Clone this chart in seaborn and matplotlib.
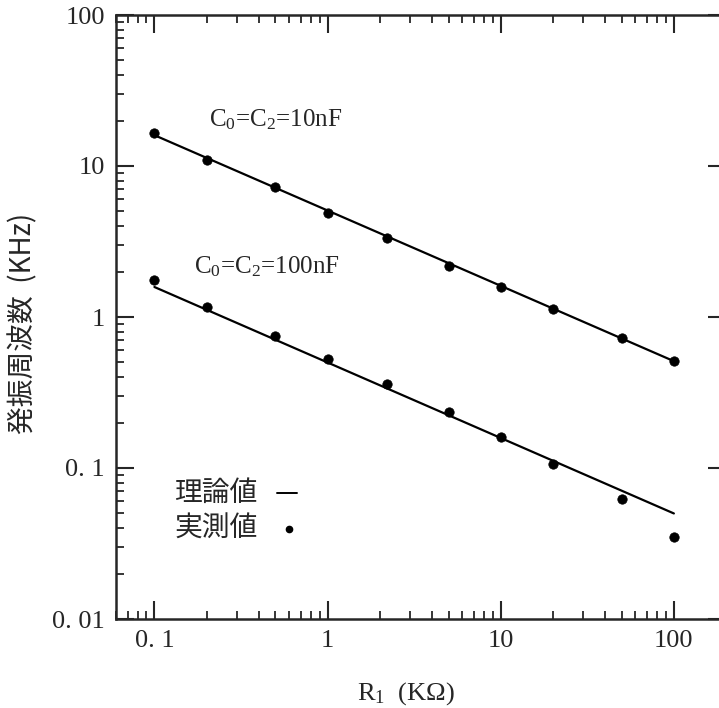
import matplotlib
matplotlib.use("Agg")
import matplotlib.pyplot as plt
import seaborn as sns
import pandas as pd
from matplotlib.ticker import LogLocator, NullFormatter

# ---- data ----
r1_kohm = [0.1, 0.2, 0.5, 1, 2.2, 5, 10, 20, 50, 100]
meas_10nF = [16.5, 10.96, 7.26, 4.88, 3.34, 2.18, 1.58, 1.13, 0.726, 0.511]
meas_100nF = [1.76, 1.16, 0.748, 0.527, 0.360, 0.235, 0.160, 0.106, 0.0624, 0.0349]
theory_x = [0.1, 100]
theory_10nF = [16.0, 0.51]
theory_100nF = [1.58, 0.050]

xtick_vals = [0.1, 1, 10, 100]
xtick_labels = ["0. 1", "1", "10", "100"]
ytick_vals = [0.01, 0.1, 1, 10, 100]
ytick_labels = ["0. 01", "0. 1", "1", "10", "100"]

label_10nF = r"C$_0$=C$_2$=10nF"
label_100nF = r"C$_0$=C$_2$=100nF"
legend_theory = "理論値"
legend_meas = "実測値"
ylabel = "発振周波数  (KHz)"
xlabel = r"R$_1$  (KΩ)"

# ---- style ----
sns.set_style("ticks")
plt.rcParams["font.family"] = ["Liberation Serif", "Noto Sans CJK JP", "DejaVu Sans"]
plt.rcParams["mathtext.fontset"] = "custom"
plt.rcParams["mathtext.rm"] = "Liberation Serif"
plt.rcParams["mathtext.it"] = "Liberation Serif"

fig = plt.figure(figsize=(7.19, 7.08), dpi=100)
ax = fig.add_axes([116 / 719, 1 - 619 / 708, (726 - 116) / 719, (619 - 15) / 708])

theory = pd.DataFrame({
    "x": theory_x * 2,
    "y": theory_10nF + theory_100nF,
    "s": ["10nF"] * 2 + ["100nF"] * 2,
})
meas = pd.DataFrame({
    "x": r1_kohm * 2,
    "y": meas_10nF + meas_100nF,
    "s": ["10nF"] * len(r1_kohm) + ["100nF"] * len(r1_kohm),
})

sns.lineplot(data=theory, x="x", y="y", units="s", estimator=None,
             color="black", lw=1.6, ax=ax, legend=False)
sns.scatterplot(data=meas, x="x", y="y", color="black", s=46,
                edgecolor="black", linewidth=0.5, ax=ax, legend=False, zorder=3)

ax.set_xscale("log")
ax.set_yscale("log")
ax.set_xlim(0.06, 200)
ax.set_ylim(0.01, 100)

ax.set_xticks(xtick_vals)
ax.set_xticklabels(xtick_labels)
ax.set_yticks(ytick_vals)
ax.set_yticklabels(ytick_labels)
ax.xaxis.set_minor_locator(LogLocator(base=10, subs=range(2, 10), numticks=20))
ax.yaxis.set_minor_locator(LogLocator(base=10, subs=range(2, 10), numticks=20))
ax.xaxis.set_minor_formatter(NullFormatter())
ax.yaxis.set_minor_formatter(NullFormatter())

ax.tick_params(which="major", direction="in", length=13, width=1.5,
               labelsize=19, top=True, right=True, pad=8)
ax.tick_params(which="minor", direction="in", length=6, width=1.3, top=True, right=False)
ax.tick_params(axis="y", which="minor", right=False)
for sp in ax.spines.values():
    sp.set_linewidth(1.8)
    sp.set_visible(True)

ax.set_xlabel("")
ax.set_ylabel("")

fig.text(406 / 719, 1 - 694 / 708, xlabel, ha="center", va="center", fontsize=19)
fig.text(23 / 719, 1 - 323 / 708, ylabel, ha="center", va="center", rotation=90,
         fontsize=20, family=["Noto Sans CJK JP", "DejaVu Sans"])

ax.text(0.208, 20.2, label_10nF, fontsize=18, ha="left", va="center")
ax.text(0.170, 2.14, label_100nF, fontsize=18, ha="left", va="center")

# legend as text
ax.text(0.1305, 0.0683, legend_theory, fontsize=20, ha="left", va="center",
        family=["Noto Sans CJK JP", "DejaVu Sans"])
ax.text(0.1305, 0.0394, legend_meas, fontsize=20, ha="left", va="center",
        family=["Noto Sans CJK JP", "DejaVu Sans"])
ax.plot([0.508, 0.662], [0.0683, 0.0683], color="black", lw=1.4)
ax.plot([0.595], [0.0394], "o", color="black", ms=4.5)

fig.savefig("out.png", dpi=100, facecolor="white")
